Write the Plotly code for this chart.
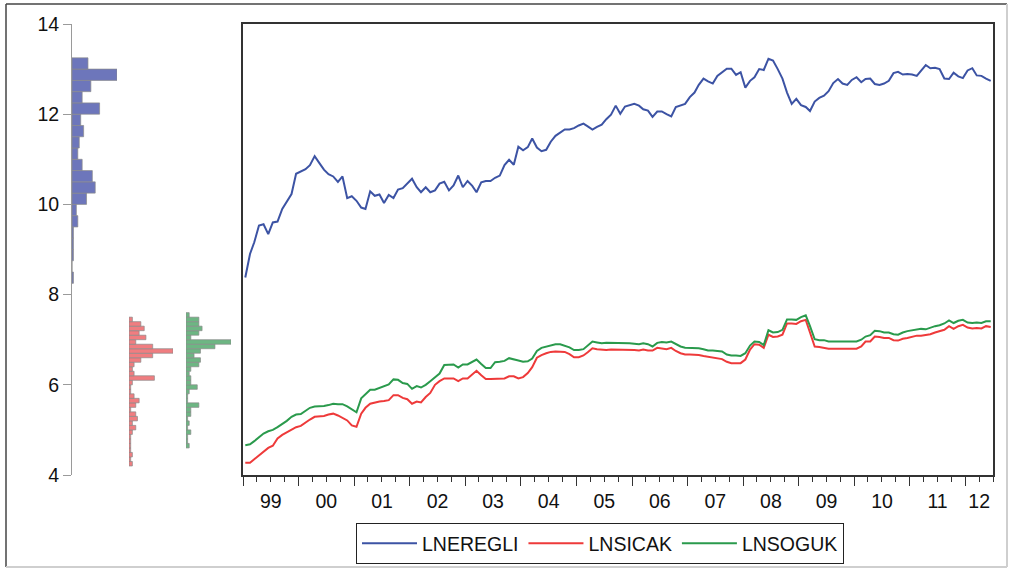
import pandas as pd
import plotly.graph_objects as go

# ---- monthly series, 1999M01 - 2012M06 ----
START = "1999-01-01"
RANGE_END = "2012-07-01"

LNEREGLI = [
    8.38, 8.90, 9.16, 9.53, 9.56, 9.34, 9.60, 9.62, 9.90, 10.05, 10.23, 10.68,
    10.73, 10.78, 10.87, 11.07, 10.92, 10.77, 10.67, 10.62, 10.50, 10.62, 10.14, 10.18,
    10.08, 9.93, 9.90, 10.29, 10.19, 10.22, 10.03, 10.21, 10.14, 10.33, 10.36, 10.46,
    10.57, 10.38, 10.27, 10.38, 10.27, 10.31, 10.46, 10.50, 10.31, 10.42, 10.64, 10.38,
    10.52, 10.41, 10.27, 10.49, 10.52, 10.52, 10.59, 10.64, 10.87, 10.99, 10.88, 11.28,
    11.20, 11.27, 11.46, 11.26, 11.18, 11.21, 11.39, 11.52, 11.60, 11.66, 11.66, 11.69,
    11.75, 11.79, 11.73, 11.66, 11.72, 11.77, 11.89, 11.99, 12.19, 12.01, 12.17, 12.20,
    12.23, 12.19, 12.11, 12.08, 11.94, 12.06, 12.06, 12.00, 11.95, 12.16, 12.19, 12.23,
    12.38, 12.48, 12.65, 12.79, 12.73, 12.68, 12.85, 12.93, 13.01, 13.01, 12.87, 12.93,
    12.59, 12.74, 12.82, 13.00, 12.98, 13.23, 13.19, 13.00, 12.79, 12.48, 12.23, 12.34,
    12.20, 12.16, 12.07, 12.28, 12.36, 12.41, 12.51, 12.69, 12.78, 12.68, 12.65, 12.76,
    12.82, 12.71, 12.78, 12.79, 12.67, 12.65, 12.68, 12.74, 12.91, 12.94, 12.88, 12.89,
    12.88, 12.85, 12.97, 13.09, 13.02, 13.03, 13.00, 12.79, 12.78, 12.92, 12.84, 12.80,
    12.97, 13.02, 12.86, 12.85, 12.79, 12.74,
]

LNSICAK = [
    4.27, 4.27, 4.35, 4.43, 4.50, 4.60, 4.65, 4.81, 4.89, 4.95, 5.01, 5.06,
    5.09, 5.17, 5.23, 5.29, 5.30, 5.31, 5.34, 5.36, 5.32, 5.26, 5.21, 5.10,
    5.07, 5.36, 5.49, 5.58, 5.61, 5.63, 5.64, 5.66, 5.77, 5.77, 5.71, 5.68,
    5.58, 5.63, 5.61, 5.73, 5.82, 6.00, 6.08, 6.14, 6.14, 6.14, 6.08, 6.14,
    6.14, 6.22, 6.31, 6.21, 6.13, 6.13, 6.13, 6.13, 6.14, 6.19, 6.19, 6.14,
    6.17, 6.26, 6.39, 6.60, 6.66, 6.70, 6.73, 6.74, 6.74, 6.73, 6.68, 6.61,
    6.61, 6.65, 6.72, 6.81, 6.79, 6.78, 6.77, 6.78, 6.78, 6.78, 6.78, 6.77,
    6.77, 6.76, 6.78, 6.76, 6.76, 6.82, 6.81, 6.79, 6.82, 6.75, 6.70, 6.67,
    6.67, 6.67, 6.66, 6.64, 6.62, 6.60, 6.59, 6.57, 6.51, 6.48, 6.48, 6.48,
    6.56, 6.78, 6.90, 6.89, 6.82, 7.11, 7.06, 7.07, 7.11, 7.36, 7.36, 7.35,
    7.41, 7.44, 7.16, 6.85, 6.84, 6.82, 6.80, 6.80, 6.80, 6.80, 6.80, 6.80,
    6.80, 6.85, 6.96, 6.96, 7.07, 7.06, 7.04, 7.04, 6.99, 6.98, 7.02, 7.04,
    7.07, 7.09, 7.09, 7.10, 7.12, 7.16, 7.19, 7.22, 7.30, 7.24, 7.30, 7.33,
    7.27, 7.25, 7.26, 7.25, 7.30, 7.28,
]

LNSOGUK = [
    4.66, 4.68, 4.75, 4.84, 4.92, 4.97, 5.00, 5.06, 5.13, 5.20, 5.29, 5.34,
    5.35, 5.43, 5.49, 5.52, 5.52, 5.53, 5.55, 5.58, 5.57, 5.57, 5.52, 5.45,
    5.39, 5.70, 5.80, 5.89, 5.89, 5.93, 5.98, 6.01, 6.12, 6.11, 6.04, 6.02,
    5.91, 5.97, 5.94, 6.00, 6.08, 6.17, 6.25, 6.44, 6.45, 6.45, 6.38, 6.45,
    6.45, 6.50, 6.56, 6.46, 6.37, 6.37, 6.50, 6.51, 6.53, 6.59, 6.57, 6.54,
    6.51, 6.52, 6.58, 6.75, 6.82, 6.85, 6.87, 6.90, 6.90, 6.87, 6.83, 6.77,
    6.77, 6.79, 6.87, 6.96, 6.94, 6.92, 6.93, 6.93, 6.93, 6.93, 6.93, 6.92,
    6.91, 6.90, 6.92, 6.90, 6.85, 6.93, 6.95, 6.94, 6.96, 6.90, 6.85, 6.82,
    6.82, 6.82, 6.81, 6.79, 6.76, 6.76, 6.75, 6.74, 6.67, 6.65, 6.65, 6.64,
    6.70, 6.87, 6.96, 6.95, 6.88, 7.21, 7.16, 7.17, 7.22, 7.45, 7.45, 7.44,
    7.50, 7.54, 7.30, 7.01, 6.99, 6.99, 6.96, 6.96, 6.96, 6.96, 6.96, 6.96,
    6.96, 7.00, 7.07, 7.10, 7.20, 7.19, 7.16, 7.16, 7.12, 7.11, 7.16, 7.19,
    7.21, 7.22, 7.24, 7.23, 7.27, 7.30, 7.32, 7.36, 7.43, 7.37, 7.42, 7.44,
    7.38, 7.37, 7.38, 7.37, 7.41, 7.41,
]

# ---- histogram counts of each series, lowest bin first ----
EREGLI_BIN_START, EREGLI_BIN_WIDTH = 8.25, 0.25
EREGLI_COUNTS = [1, 0, 1, 1, 1, 4, 3, 10, 16, 14, 7, 4, 5, 8, 6, 19, 7, 13, 31, 11]

SICAK_BIN_START, SICAK_BIN_WIDTH = 4.2, 0.1
SICAK_COUNTS = [2, 1, 2, 1, 1, 1, 1, 2, 4, 2, 5, 4, 1, 4, 6, 3, 1, 1, 2, 15, 3,
                2, 3, 7, 14, 26, 14, 4, 10, 6, 9, 7, 2]

SOGUK_BIN_START, SOGUK_BIN_WIDTH = 4.6, 0.1
SOGUK_COUNTS = [2, 1, 1, 3, 1, 2, 1, 3, 3, 8, 1, 1, 2, 7, 3, 3, 2, 3, 8, 9, 5,
                9, 18, 28, 3, 8, 10, 8, 8, 2]

SERIES_NAMES = ["LNEREGLI", "LNSICAK", "LNSOGUK"]
LINE_COLORS = ["#3c53a4", "#ee3a3a", "#2a9a4c"]
BAR_COLORS = ["#6d76bb", "#f07d80", "#6db683"]
YEAR_LABELS = ["99", "00", "01", "02", "03", "04", "05", "06", "07", "08",
               "09", "10", "11", "12"]

# ---- page geometry (pixels) ----
W, H = 1013, 570
FONT = "Liberation Sans, Arial, sans-serif"


def fx(p):
    return p / W


def fy(p):
    return 1 - p / H


PLOT_L, PLOT_R, PLOT_T, PLOT_B = 243, 993, 24, 475
Y_DOMAIN = [fy(PLOT_B), fy(PLOT_T)]
HIST_SLOTS = [(72, 117), (129, 173), (186, 231)]

dates = pd.date_range(START, periods=len(LNEREGLI), freq="MS") + pd.Timedelta(days=15)

fig = go.Figure()

for name, values, color in zip(SERIES_NAMES, [LNEREGLI, LNSICAK, LNSOGUK], LINE_COLORS):
    fig.add_trace(go.Scatter(
        x=dates, y=values, mode="lines", name=name,
        line=dict(color=color, width=2), xaxis="x", yaxis="y",
    ))

# an empty trace keeps the year-label axis alive
fig.add_trace(go.Scatter(x=[], y=[], xaxis="x5", yaxis="y", showlegend=False,
                         hoverinfo="skip"))

hists = [
    (EREGLI_BIN_START, EREGLI_BIN_WIDTH, EREGLI_COUNTS),
    (SICAK_BIN_START, SICAK_BIN_WIDTH, SICAK_COUNTS),
    (SOGUK_BIN_START, SOGUK_BIN_WIDTH, SOGUK_COUNTS),
]
for k, ((b0, bw, counts), color) in enumerate(zip(hists, BAR_COLORS)):
    centers = [round(b0 + bw * (j + 0.5), 4) for j in range(len(counts))]
    fig.add_trace(go.Bar(
        x=counts, y=centers, orientation="h", width=bw,
        marker=dict(color=color, line=dict(color="#8a8a8a", width=0.7)),
        xaxis=f"x{k + 2}", yaxis="y2", showlegend=False, hoverinfo="skip",
    ))

# year labels centred on the visible part of each year
label_pos = []
end = pd.Timestamp(RANGE_END)
for yr in range(1999, 2013):
    a = pd.Timestamp(f"{yr}-01-01")
    b = min(pd.Timestamp(f"{yr + 1}-01-01"), end)
    label_pos.append(a + (b - a) / 2)

axis_font = dict(family=FONT, size=19.5, color="#111111")

layout = dict(
    width=W, height=H,
    margin=dict(l=0, r=0, t=0, b=0, autoexpand=False),
    paper_bgcolor="white", plot_bgcolor="white",
    font=axis_font,
    showlegend=True,
    xaxis=dict(
        type="date", domain=[fx(PLOT_L), fx(PLOT_R)], range=[START, RANGE_END],
        anchor="y", tick0=START, dtick="M12", ticks="outside", ticklen=9,
        tickwidth=1, tickcolor="#333333", showticklabels=False,
        minor=dict(ticks="outside", ticklen=5, tickwidth=1, tickcolor="#333333",
                   tick0=START, dtick="M3"),
        showline=True, linecolor="#333333", linewidth=1.5, mirror=True,
        showgrid=False, zeroline=False, automargin=False,
    ),
    xaxis5=dict(
        type="date", overlaying="x", range=[START, RANGE_END], anchor="y",
        side="bottom", tickmode="array", tickvals=label_pos, ticktext=YEAR_LABELS,
        ticks="outside", ticklen=9, tickcolor="rgba(0,0,0,0)",
        showline=False, showgrid=False, zeroline=False, tickfont=axis_font,
        automargin=False,
    ),
    yaxis=dict(
        domain=Y_DOMAIN, range=[4, 14], anchor="x",
        showline=True, linecolor="#333333", linewidth=1.5, mirror=True,
        ticks="", showticklabels=False, showgrid=False, zeroline=False,
        automargin=False,
    ),
    yaxis2=dict(
        domain=Y_DOMAIN, range=[4, 14], anchor="free", position=fx(71), side="left",
        tickmode="array", tickvals=[4, 6, 8, 10, 12, 14], ticks="outside",
        ticklen=8, tickwidth=1, tickcolor="#9a9a9a",
        showline=True, linecolor="#9a9a9a", linewidth=1,
        showgrid=False, zeroline=False, tickfont=axis_font, automargin=False,
    ),
    legend=dict(
        orientation="h", x=fx(356), y=fy(523), xanchor="left", yanchor="top",
        bgcolor="white", bordercolor="#222222", borderwidth=1,
        font=dict(family=FONT, size=19.5, color="#111111"),
        itemwidth=55,
    ),
)
for k, (a, b) in enumerate(HIST_SLOTS):
    counts = hists[k][2]
    layout[f"xaxis{k + 2}"] = dict(
        domain=[fx(a), fx(b)], range=[0, max(counts)], anchor="y2",
        visible=False, fixedrange=True, automargin=False,
    )

fig.update_layout(**layout)

# outer frame: dark top/left, light bottom/right
frame = [
    (6, 4, 6, 567, "#444444", 1.5),
    (6, 4, 1007, 4, "#444444", 1.5),
    (1007, 4, 1007, 567, "#cfcfcf", 2),
    (6, 567, 1007, 567, "#cfcfcf", 2),
]
for x0, y0, x1, y1, c, w in frame:
    fig.add_shape(type="line", xref="paper", yref="paper",
                  x0=fx(x0), y0=fy(y0), x1=fx(x1), y1=fy(y1),
                  line=dict(color=c, width=w))

# legend drop shadow
fig.add_shape(type="rect", xref="paper", yref="paper",
              x0=fx(358), y0=fy(525), x1=fx(844), y1=fy(558),
              fillcolor="#9a9a9a", line=dict(width=0), layer="above")

fig.write_html("out.html")
